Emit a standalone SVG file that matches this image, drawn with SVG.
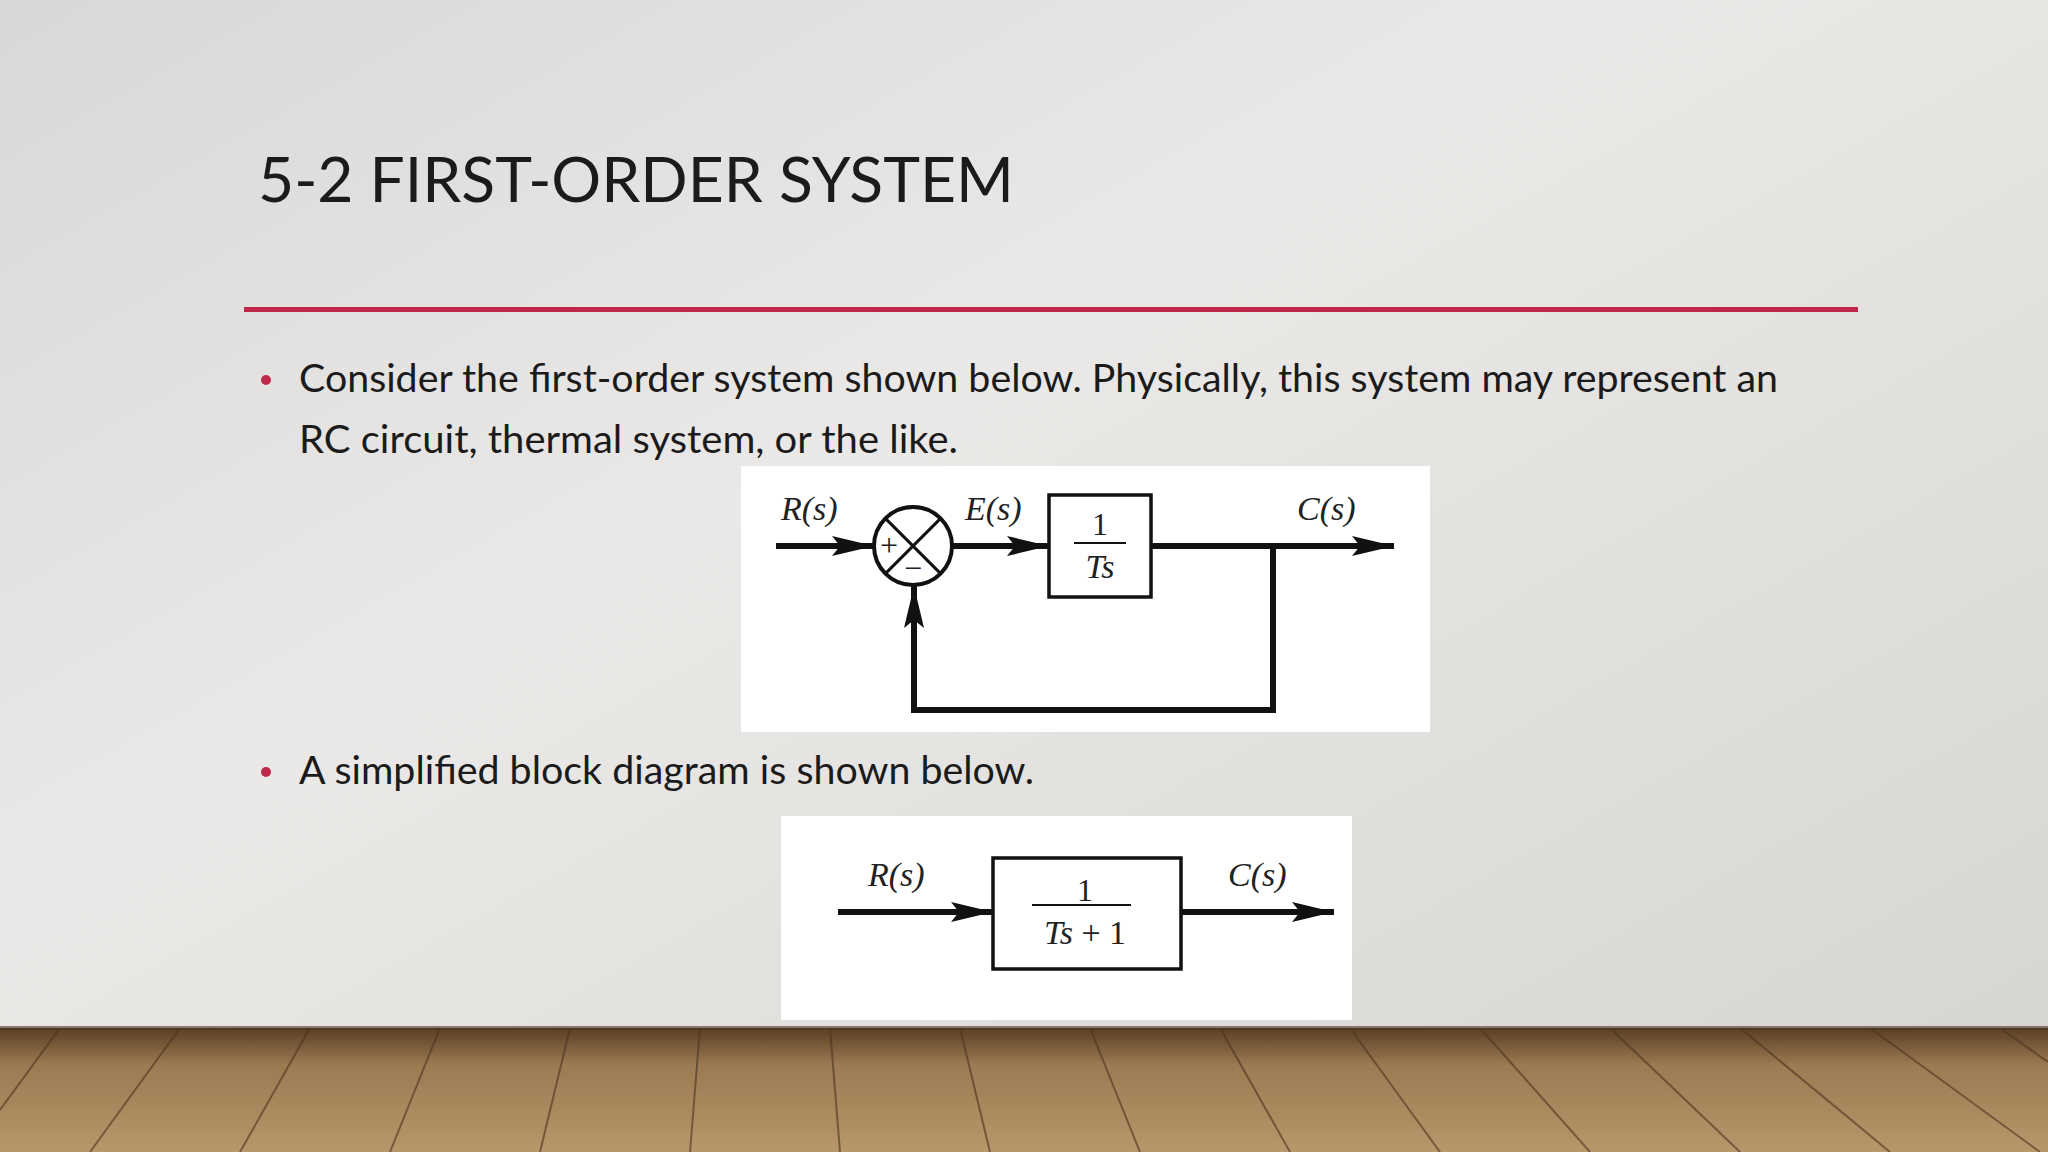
<svg xmlns="http://www.w3.org/2000/svg" width="2048" height="1152" viewBox="0 0 2048 1152">
<defs>
<linearGradient id="bg" x1="0" y1="0" x2="1" y2="1"><stop offset="0" stop-color="#d9d8d6"/><stop offset="0.4" stop-color="#eae9e7"/><stop offset="1" stop-color="#d6d4d1"/></linearGradient>
<linearGradient id="wood" x1="0" y1="0" x2="0" y2="1"><stop offset="0" stop-color="#5a3f25"/><stop offset="0.3" stop-color="#9c7a52"/><stop offset="1" stop-color="#b8976b"/></linearGradient>
<marker id="ah" markerUnits="userSpaceOnUse" markerWidth="44" markerHeight="26" refX="42" refY="13" orient="auto"><path d="M0,3 L42,13 L0,23 L8,13 Z" fill="#111"/></marker>
<style>
.t{font-family:Lato,"Open Sans",sans-serif;fill:#1b1b1b}
.m{font-family:"Liberation Serif",serif;font-style:italic;font-size:34px;fill:#222}
.n{font-family:"Liberation Serif",serif;font-size:32px;fill:#222}
.c{stroke:#111;stroke-width:6;fill:none;marker-end:url(#ah)}
.b{stroke:#111;stroke-width:3.5;fill:#fff}
</style>
</defs>
<rect width="2048" height="1152" fill="url(#bg)"/>
<g id="floor">
<rect x="0" y="1028" width="2048" height="124" fill="url(#wood)"/>
<g stroke="#4a3320" stroke-width="2" opacity="0.6">
<line x1="60" y1="1028" x2="0" y2="1110"/><line x1="180" y1="1028" x2="90" y2="1152"/><line x1="310" y1="1028" x2="240" y2="1152"/><line x1="440" y1="1028" x2="390" y2="1152"/><line x1="570" y1="1028" x2="540" y2="1152"/><line x1="700" y1="1028" x2="690" y2="1152"/><line x1="830" y1="1028" x2="840" y2="1152"/><line x1="960" y1="1028" x2="990" y2="1152"/><line x1="1090" y1="1028" x2="1140" y2="1152"/><line x1="1220" y1="1028" x2="1290" y2="1152"/><line x1="1350" y1="1028" x2="1440" y2="1152"/><line x1="1480" y1="1028" x2="1590" y2="1152"/><line x1="1610" y1="1028" x2="1740" y2="1152"/><line x1="1740" y1="1028" x2="1890" y2="1152"/><line x1="1870" y1="1028" x2="2040" y2="1152"/><line x1="2000" y1="1028" x2="2048" y2="1062"/>
<line x1="0" y1="1028" x2="2048" y2="1028" stroke-width="4"/>
</g>
</g>
<g id="title"><text class="t" x="258" y="202" font-size="62" textLength="756" lengthAdjust="spacingAndGlyphs">5-2 FIRST-ORDER SYSTEM</text></g>
<rect x="244" y="307" width="1614" height="5" fill="#c0284a"/>
<g id="bullets">
<circle cx="266" cy="380" r="5" fill="#c0284a"/>
<text class="t" x="299" y="392" font-size="39" textLength="1479" lengthAdjust="spacingAndGlyphs">Consider the first-order system shown below. Physically, this system may represent an</text>
<text class="t" x="299" y="453" font-size="39" textLength="659" lengthAdjust="spacingAndGlyphs">RC circuit, thermal system, or the like.</text>
<circle cx="266" cy="772" r="5" fill="#c0284a"/>
<text class="t" x="299" y="784" font-size="39" textLength="735" lengthAdjust="spacingAndGlyphs">A simplified block diagram is shown below.</text>
</g>
<g id="panel1">
<rect x="741" y="466" width="689" height="266" fill="#fff"/>
</g>
<g id="panel2">
<rect x="781" y="816" width="571" height="204" fill="#fff"/>
</g>
<g id="connectors">
<line class="c" x1="776" y1="546" x2="874" y2="546"/>
<line class="c" x1="952" y1="546" x2="1049" y2="546"/>
<line class="c" x1="1151" y1="546" x2="1394" y2="546"/>
<polyline class="c" points="1273,546 1273,710 914,710 914,586"/>
<line class="c" x1="838" y1="912" x2="993" y2="912"/>
<line class="c" x1="1181" y1="912" x2="1334" y2="912"/>
</g>
<g id="sum">
<circle cx="913" cy="546" r="39" stroke="#111" stroke-width="4" fill="#fff"/>
<line x1="885.4" y1="518.4" x2="940.6" y2="573.6" stroke="#111" stroke-width="3"/>
<line x1="940.6" y1="518.4" x2="885.4" y2="573.6" stroke="#111" stroke-width="3"/>
<text class="n" x="889" y="556" text-anchor="middle" font-size="26">+</text>
<text class="n" x="913" y="579" text-anchor="middle" font-size="26">−</text>
</g>
<g id="block1">
<rect class="b" x="1049" y="495" width="102" height="102"/>
<text class="n" x="1100" y="535" text-anchor="middle">1</text>
<line x1="1074" y1="543" x2="1126" y2="543" stroke="#111" stroke-width="2"/>
<text class="m" x="1100" y="578" text-anchor="middle">Ts</text>
</g>
<g id="labels1">
<text class="m" x="781" y="520">R(s)</text>
<text class="m" x="965" y="520">E(s)</text>
<text class="m" x="1297" y="520">C(s)</text>
</g>
<g id="block2">
<rect class="b" x="993" y="858" width="188" height="111"/>
<text class="n" x="1085" y="901" text-anchor="middle">1</text>
<line x1="1032" y1="905" x2="1131" y2="905" stroke="#111" stroke-width="2"/>
<text class="m" x="1085" y="944" text-anchor="middle">Ts <tspan font-style="normal">+ 1</tspan></text>
</g>
<g id="labels2">
<text class="m" x="868" y="886">R(s)</text>
<text class="m" x="1228" y="886">C(s)</text>
</g>
</svg>
